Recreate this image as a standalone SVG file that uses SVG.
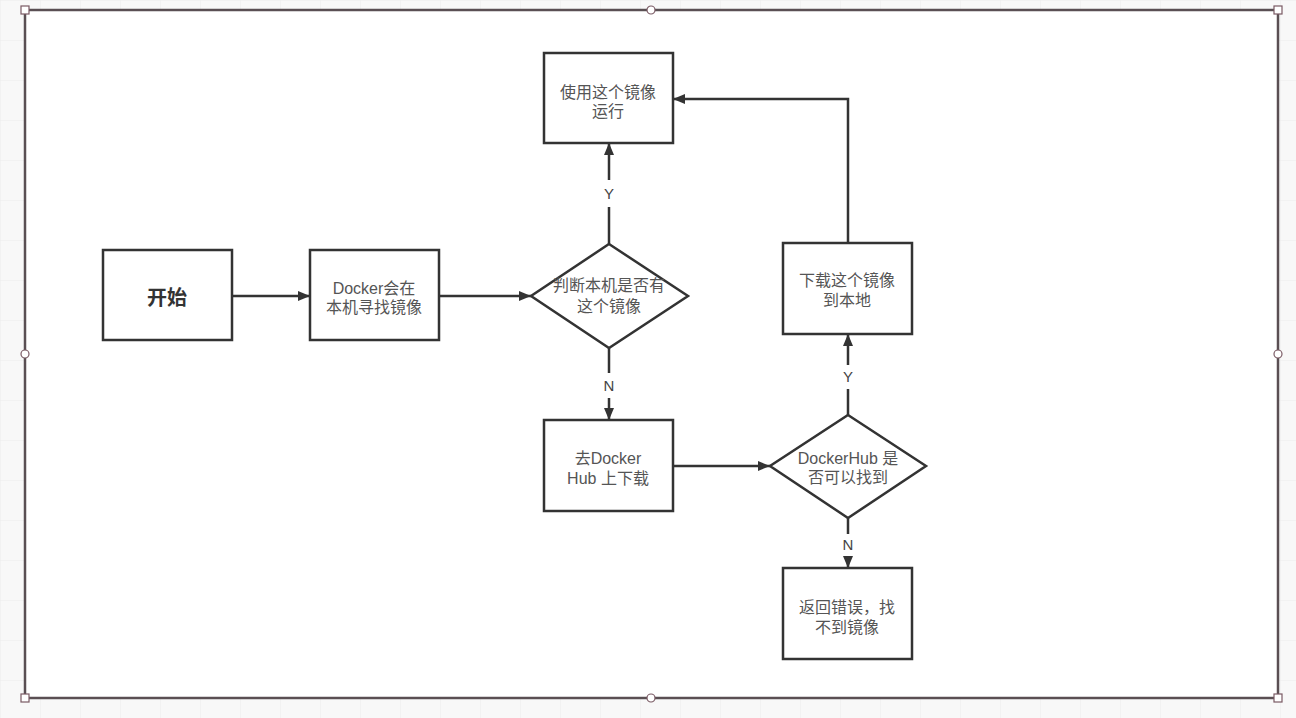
<svg xmlns="http://www.w3.org/2000/svg" width="1296" height="718" viewBox="0 0 1296 718">
<defs>
<style>
.node{fill:#fff;stroke:#333;stroke-width:2.5}
.t{font-family:"Liberation Sans","Noto Sans CJK SC",sans-serif;font-size:16px;fill:#555;text-anchor:middle}
.lbl{font-family:"Liberation Sans","Noto Sans CJK SC",sans-serif;font-size:15px;fill:#444;text-anchor:middle}
.edge{fill:none;stroke:#333;stroke-width:2.5}
.handle{fill:#fff;stroke:#7a5a64;stroke-width:1.2}
</style>
<marker id="ah" viewBox="0 0 12 10" refX="12" refY="5" markerWidth="12" markerHeight="10" markerUnits="userSpaceOnUse" orient="auto">
<path d="M0,0 L12,5 L0,10 z" fill="#333"/>
</marker>
<pattern id="grid" width="40" height="40" patternUnits="userSpaceOnUse">
<path d="M40,0 L0,0 0,40" fill="none" stroke="#ebebeb" stroke-width="1"/>
</pattern>
</defs>
<rect x="0" y="0" width="1296" height="718" fill="#f8f8f8"/>
<rect x="0" y="0" width="1296" height="718" fill="url(#grid)"/>
<g id="frame">
<rect x="25" y="10" width="1253" height="688" fill="#fff" stroke="#5a4f53" stroke-width="2.5"/>
<rect x="21" y="6" width="8" height="8" class="handle"/>
<rect x="1274" y="6" width="8" height="8" class="handle"/>
<rect x="21" y="694" width="8" height="8" class="handle"/>
<rect x="1274" y="694" width="8" height="8" class="handle"/>
<circle cx="651" cy="10" r="4" class="handle"/>
<circle cx="651" cy="698" r="4" class="handle"/>
<circle cx="25" cy="354" r="4" class="handle"/>
<circle cx="1278" cy="354" r="4" class="handle"/>
</g>
<g id="connectors">
<line x1="232" y1="296" x2="310" y2="296" class="edge" marker-end="url(#ah)"/>
<line x1="439" y1="296" x2="531" y2="296" class="edge" marker-end="url(#ah)"/>
<line x1="609" y1="244" x2="609" y2="207" class="edge"/>
<line x1="609" y1="180" x2="609" y2="143" class="edge" marker-end="url(#ah)"/>
<line x1="609" y1="348" x2="609" y2="373" class="edge"/>
<line x1="609" y1="398" x2="609" y2="420" class="edge" marker-end="url(#ah)"/>
<line x1="673" y1="466" x2="770" y2="466" class="edge" marker-end="url(#ah)"/>
<line x1="848" y1="415" x2="848" y2="389" class="edge"/>
<line x1="848" y1="365" x2="848" y2="334" class="edge" marker-end="url(#ah)"/>
<line x1="848" y1="518" x2="848" y2="534" class="edge"/>
<line x1="848" y1="556" x2="848" y2="568" class="edge" marker-end="url(#ah)"/>
<polyline points="848,243 848,99 673,99" class="edge" marker-end="url(#ah)"/>
<text x="609" y="199" class="lbl">Y</text>
<text x="609" y="391" class="lbl">N</text>
<text x="848" y="382" class="lbl">Y</text>
<text x="848" y="550" class="lbl">N</text>
</g>
<g id="start">
<rect x="103" y="250" width="129" height="90" class="node"/>
<text x="167" y="305" font-family="Liberation Sans,Noto Sans CJK SC,sans-serif" font-size="20" font-weight="bold" fill="#333" text-anchor="middle">开始</text>
</g>
<g id="search-local">
<rect x="310" y="250" width="129" height="90" class="node"/>
<text x="374" y="294" class="t">Docker会在</text>
<text x="374" y="313" class="t">本机寻找镜像</text>
</g>
<g id="has-local">
<polygon points="609,244 688,296 609,348 531,296" class="node"/>
<text x="609" y="291" class="t">判断本机是否有</text>
<text x="609" y="312" class="t">这个镜像</text>
</g>
<g id="run-image">
<rect x="544" y="53" width="129" height="90" class="node"/>
<text x="608" y="98" class="t">使用这个镜像</text>
<text x="608" y="117" class="t">运行</text>
</g>
<g id="go-hub">
<rect x="544" y="420" width="129" height="91" class="node"/>
<text x="608" y="464" class="t">去Docker</text>
<text x="608" y="484" class="t">Hub 上下载</text>
</g>
<g id="hub-found">
<polygon points="848,415 926,466 848,518 770,466" class="node"/>
<text x="848" y="464" class="t">DockerHub 是</text>
<text x="848" y="483" class="t">否可以找到</text>
</g>
<g id="download">
<rect x="783" y="243" width="129" height="91" class="node"/>
<text x="847" y="286" class="t">下载这个镜像</text>
<text x="847" y="306" class="t">到本地</text>
</g>
<g id="error">
<rect x="783" y="568" width="129" height="91" class="node"/>
<text x="847" y="613" class="t">返回错误，找</text>
<text x="847" y="633" class="t">不到镜像</text>
</g>
</svg>
